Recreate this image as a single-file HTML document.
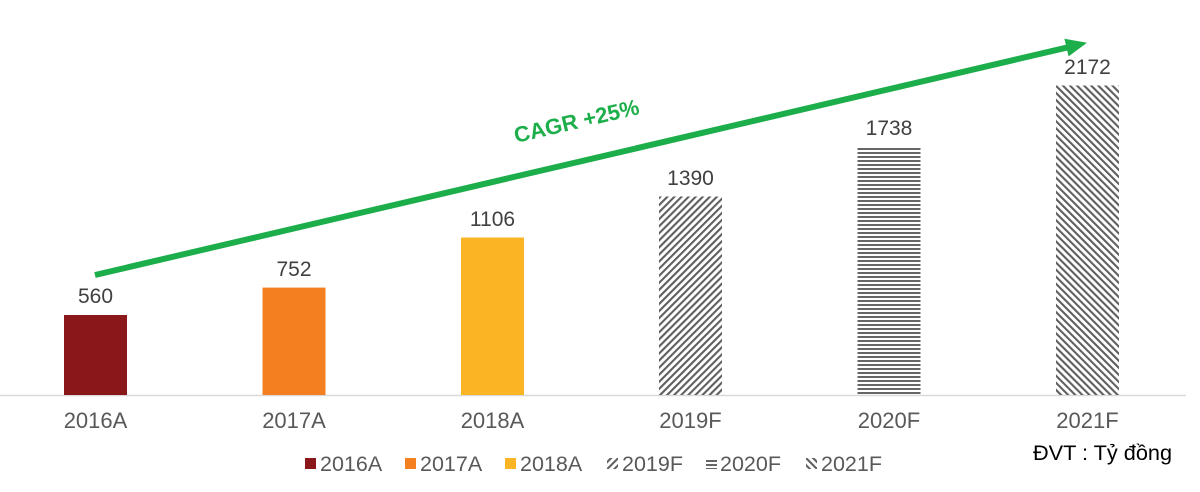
<!DOCTYPE html>
<html>
<head>
<meta charset="utf-8">
<style>
html,body{margin:0;padding:0;background:#fff;}
svg{display:block;}
text{font-family:"Liberation Sans",Arial,sans-serif;}
</style>
</head>
<body>
<svg width="1200" height="492" viewBox="0 0 1200 492" xmlns="http://www.w3.org/2000/svg">
<defs>
<pattern id="p19" patternUnits="userSpaceOnUse" width="5" height="5" patternTransform="rotate(45)">
<rect x="0" y="0" width="2.1" height="5" fill="#5f5f5f"/>
</pattern>
<pattern id="p20" patternUnits="userSpaceOnUse" width="8" height="4">
<rect x="0" y="0" width="8" height="2" fill="#666"/>
</pattern>
<pattern id="p21" patternUnits="userSpaceOnUse" width="5" height="5" patternTransform="rotate(-45)">
<rect x="0" y="0" width="2.1" height="5" fill="#5f5f5f"/>
</pattern>
</defs>

<!-- axis -->
<line x1="0" y1="395.5" x2="1186" y2="395.5" stroke="#d9d9d9" stroke-width="1.5"/>

<!-- bars -->
<rect x="64" y="315" width="63" height="80" fill="#8a171a"/>
<rect x="262.5" y="287.6" width="63" height="107.4" fill="#f47f20"/>
<rect x="461" y="237.5" width="63" height="157.5" fill="#fbb423"/>
<rect x="659" y="196.5" width="63" height="198.5" fill="url(#p19)"/>
<rect x="857.5" y="147" width="63" height="248" fill="url(#p20)"/>
<rect x="1056" y="85.5" width="63" height="309.5" fill="url(#p21)"/>

<!-- value labels -->
<g font-size="21" fill="#404040" text-anchor="middle">
<text x="95.5" y="303">560</text>
<text x="294" y="276">752</text>
<text x="492.5" y="226">1106</text>
<text x="690.5" y="185">1390</text>
<text x="889" y="135">1738</text>
<text x="1087.5" y="74">2172</text>
</g>

<!-- category labels -->
<g font-size="22" fill="#595959" text-anchor="middle">
<text x="95.5" y="428">2016A</text>
<text x="294" y="428">2017A</text>
<text x="492.5" y="428">2018A</text>
<text x="690.5" y="428">2019F</text>
<text x="889" y="428">2020F</text>
<text x="1087.5" y="428">2021F</text>
</g>

<!-- arrow -->
<line x1="95" y1="275" x2="1068" y2="47.3" stroke="#1cae4a" stroke-width="6"/>
<polygon points="1087,42.8 1068.6,56.4 1064.4,38.8" fill="#1cae4a"/>
<text transform="translate(516,143) rotate(-13.2)" font-size="22" font-weight="bold" fill="#1cae4a">CAGR +25%</text>

<!-- legend -->
<g font-size="21.5" fill="#595959">
<rect x="305" y="458" width="11" height="11" fill="#8a171a"/>
<text x="320" y="471">2016A</text>
<rect x="405" y="458" width="11" height="11" fill="#f47f20"/>
<text x="420" y="471">2017A</text>
<rect x="505" y="458" width="11" height="11" fill="#fbb423"/>
<text x="520" y="471">2018A</text>
<rect x="607" y="458" width="11" height="11" fill="url(#p19)"/>
<text x="622" y="471">2019F</text>
<rect x="706" y="458" width="11" height="11" fill="url(#p20)"/>
<text x="720" y="471">2020F</text>
<rect x="806" y="458" width="11" height="11" fill="url(#p21)"/>
<text x="821" y="471">2021F</text>
</g>

<text x="1033" y="460" font-size="21.7" fill="#000">ĐVT : Tỷ đồng</text>
</svg>
</body>
</html>
